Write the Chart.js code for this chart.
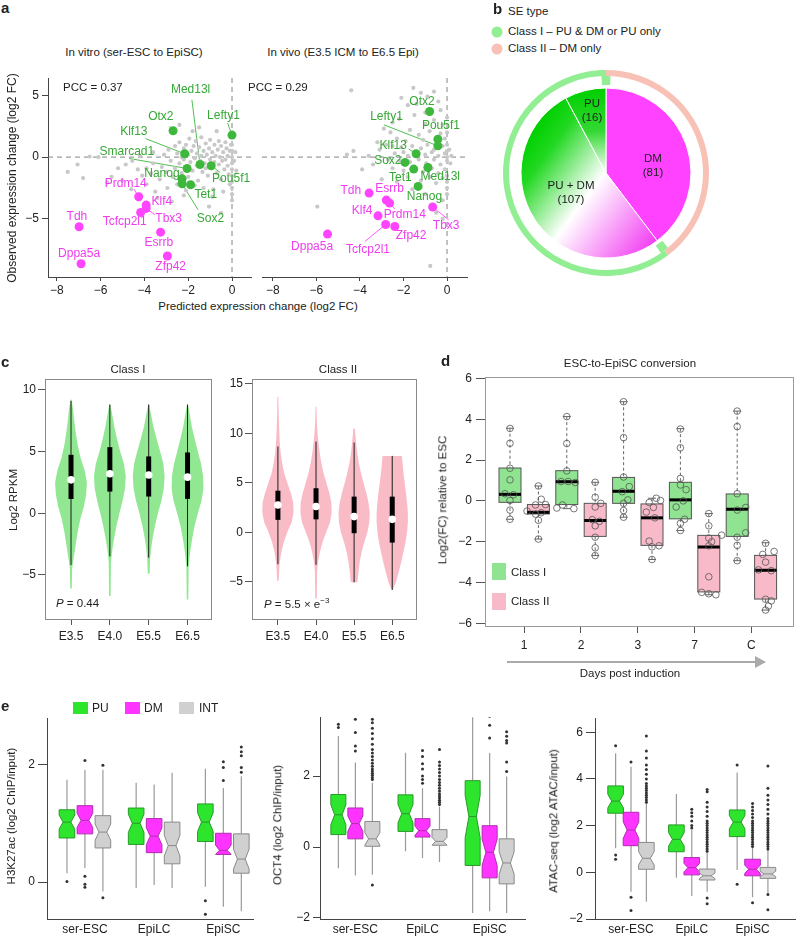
<!DOCTYPE html>
<html>
<head>
<meta charset="utf-8">
<script src="https://cdn.jsdelivr.net/npm/chart.js@4.4.1/dist/chart.umd.min.js"></script>
<style>
body { margin: 0; background: #fff; width: 799px; height: 936px; position: relative; overflow: hidden;
  font-family: 'Liberation Sans', Arial, Helvetica, sans-serif; color: #222; }
canvas { position: absolute; z-index: 1; }
.t { position: absolute; white-space: nowrap; font-size: 11.5px; line-height: 1; z-index: 3; }
.c { transform: translate(-50%, -50%); }
.l { transform: translate(0, -50%); }
.rot { transform: translate(-50%, -50%) rotate(-90deg); }
.pl { position: absolute; font-weight: bold; font-size: 15px; line-height: 1; z-index: 3; }
.sq { position: absolute; z-index: 2; }
.dot { position: absolute; width: 11px; height: 11px; border-radius: 50%; transform: translate(-50%, -50%); z-index: 2; }
sup { font-size: 8px; vertical-align: 5px; }
</style>
</head>
<body>
<!-- panel a text -->
<div class="pl" style="left:1px;top:0px">a</div>
<div class="t c" style="left:134px;top:53px">In vitro (ser-ESC to EpiSC)</div>
<div class="t c" style="left:343px;top:53px">In vivo (E3.5 ICM to E6.5 Epi)</div>
<div class="t l" style="left:63px;top:88px">PCC = 0.37</div>
<div class="t l" style="left:248px;top:88px">PCC = 0.29</div>
<div class="t rot" style="left:12px;top:178px;font-size:12px">Observed expression change (log2 FC)</div>
<div class="t c" style="left:258px;top:307px">Predicted expression change (log2 FC)</div>
<!-- panel b text -->
<div class="pl" style="left:493px;top:1px">b</div>
<div class="t l" style="left:508px;top:12px">SE type</div>
<div class="dot" style="left:497px;top:32px;background:#92ee92"></div>
<div class="t l" style="left:508px;top:32px">Class I – PU &amp; DM or PU only</div>
<div class="dot" style="left:497px;top:49px;background:#f8c1b6"></div>
<div class="t l" style="left:508px;top:49px">Class II – DM only</div>
<div class="t c" style="left:592px;top:104px">PU</div>
<div class="t c" style="left:592px;top:118px">(16)</div>
<div class="t c" style="left:653px;top:159px">DM</div>
<div class="t c" style="left:653px;top:173px">(81)</div>
<div class="t c" style="left:571px;top:186px">PU + DM</div>
<div class="t c" style="left:571px;top:200px">(107)</div>
<!-- panel c text -->
<div class="pl" style="left:1px;top:354px">c</div>
<div class="t c" style="left:128px;top:370px">Class I</div>
<div class="t c" style="left:338px;top:370px">Class II</div>
<div class="t rot" style="left:14px;top:500px">Log2 RPKM</div>
<div class="t l" style="left:56px;top:604px"><i>P</i> = 0.44</div>
<div class="t l" style="left:264px;top:604px"><i>P</i> = 5.5 × e<sup>−3</sup></div>
<!-- panel d text -->
<div class="pl" style="left:441px;top:353px">d</div>
<div class="t c" style="left:630px;top:364px">ESC-to-EpiSC conversion</div>
<div class="t rot" style="left:443px;top:500px">Log2(FC) relative to ESC</div>
<div class="sq" style="left:492px;top:563px;width:14px;height:17px;background:#90e390"></div>
<div class="t l" style="left:511px;top:573px">Class I</div>
<div class="sq" style="left:492px;top:593px;width:14px;height:17px;background:#f8b9c8"></div>
<div class="t l" style="left:511px;top:602px">Class II</div>
<div class="sq" style="left:507px;top:661px;width:249px;height:2px;background:#aaa"></div>
<div class="sq" style="left:755px;top:656px;width:0;height:0;border-top:6px solid transparent;border-bottom:6px solid transparent;border-left:11px solid #aaa"></div>
<div class="t c" style="left:630px;top:674px">Days post induction</div>
<!-- panel e text -->
<div class="pl" style="left:1px;top:698px">e</div>
<div class="sq" style="left:73px;top:702px;width:15px;height:12px;background:#2ee52e"></div>
<div class="t l" style="left:92px;top:708px;font-size:12px">PU</div>
<div class="sq" style="left:125px;top:702px;width:15px;height:12px;background:#ff33ff"></div>
<div class="t l" style="left:144px;top:708px;font-size:12px">DM</div>
<div class="sq" style="left:179px;top:702px;width:15px;height:12px;background:#d0d0d0"></div>
<div class="t l" style="left:199px;top:708px;font-size:12px">INT</div>
<div class="t rot" style="left:12px;top:816px">H3K27ac (log2 ChIP/input)</div>
<div class="t rot" style="left:278px;top:825px">OCT4 (log2 ChIP/input)</div>
<div class="t rot" style="left:554px;top:821px">ATAC-seq (log2 ATAC/input)</div>

<script>
// ---------------- panel a : predicted vs observed ----------------
const aTicksX = [-8, -6, -4, -2, 0]
const aTicksY = [-5, 0, 5]

const vitroGenes = ['Med13l', 'Otx2', 'Lefty1', 'Klf13', 'Smarcad1', 'Nanog', 'Pou5f1', 'Tet1', 'Sox2',
  'Prdm14', 'Klf4', 'Tbx3', 'Tcfcp2l1', 'Tdh', 'Esrrb', 'Zfp42', 'Dppa5a']
const vitroPred = [-1.46, -2.69, 0, -2.16, -2.05, -2.28, -0.95, -1.89, -2.28,
  -4.26, -3.92, -3.92, -4.17, -6.98, -3.26, -2.95, -6.89]
const vitroObs = [-0.6, 2.13, 1.78, 0.27, -0.92, -1.75, -0.7, -2.24, -2.16,
  -3.21, -3.88, -4.15, -4.48, -5.63, -6.07, -8.0, -8.63]
const vitroClass = [1, 1, 1, 1, 1, 1, 1, 1, 1, 2, 2, 2, 2, 2, 2, 2, 2]

const vivoGenes = ['Otx2', 'Pou5f1', 'Lefty1', 'Klf13', 'Sox2', 'Tet1', 'Med13l', 'Nanog',
  'Tdh', 'Esrrb', 'Prdm14', 'Tbx3', 'Klf4', 'Tcfcp2l1', 'Zfp42', 'Dppa5a']
const vivoPred = [-0.8, -0.42, -0.42, -1.42, -1.93, -1.53, -0.88, -1.33,
  -3.58, -2.79, -2.64, -0.66, -3.17, -2.82, -2.4, -5.49]
const vivoObs = [3.69, 1.45, 0.91, 0.27, -0.43, -0.97, -0.84, -2.37,
  -2.91, -3.48, -3.72, -4.04, -4.75, -5.45, -5.61, -6.23]
const vivoClass = [1, 1, 1, 1, 1, 1, 1, 1, 2, 2, 2, 2, 2, 2, 2, 2]

// other genes (grey background)
const vitroGray = [[-7.5,-1.2],[-7.05,-0.6],[-6.5,0.05],[-6.1,0],[-6.8,-1.7],[-5.7,-2.05],[-5.5,-1.6],[-5,-1.9],
  [-4.85,-0.6],[-4.55,-0.3],[-4.3,-1],[-4.1,-1.5],[-4.6,-2.6],[-3.9,-2.2],[-3.7,-1.3],[-3.6,-0.5],[-3.5,-2.8],
  [-3.4,-3.3],[-3.3,-1.8],[-3.2,-0.8],[-3.1,0.2],[-3,-1.2],[-2.95,-2.5],[-2.9,0.6],[-2.8,-0.3],[-2.7,-1.6],
  [-2.6,0.9],[-2.6,-0.9],[-2.5,0.3],[-2.5,-2.2],[-2.4,-0.5],[-2.4,1.2],[-2.3,0],[-2.3,-1.3],[-2.2,0.7],[-2.2,-0.2],
  [-2.1,1],[-2.1,-0.8],[-2,0.2],[-2,-1.6],[-1.95,1.5],[-1.9,-0.4],[-1.85,0.5],[-1.8,-1.1],[-1.75,0.9],[-1.7,-0.1],
  [-1.65,1.3],[-1.6,-0.7],[-1.6,0.3],[-1.55,-1.9],[-1.5,0.8],[-1.45,-0.3],[-1.4,1.6],[-1.4,0.1],[-1.35,-1.2],
  [-1.3,0.5],[-1.25,-0.5],[-1.2,1.1],[-1.2,-0.9],[-1.15,0.2],[-1.1,-1.5],[-1.05,0.7],[-1,-0.2],[-1,1.4],
  [-0.95,-0.9],[-0.9,0.4],[-0.85,-2.6],[-0.8,1],[-0.8,-0.4],[-0.75,0.1],[-0.7,-1.3],[-0.65,0.6],[-0.6,1.3],
  [-0.6,-0.6],[-0.55,0],[-0.5,-1.8],[-0.5,0.9],[-0.45,-0.3],[-0.4,0.4],[-0.35,-1],[-0.3,1.2],[-0.3,-0.2],
  [-0.25,0.7],[-0.2,-0.7],[-0.2,0.1],[-0.15,-1.4],[-0.1,0.5],[-0.1,-2.2],[-0.05,1],[0,-3.5],[0,-3],[0,-2.5],
  [0,-2],[0,-1.5],[0,-1],[0,-0.5],[0,0],[0,0.5],[0,1],[0.1,-0.3],[0.15,0.4],[0.2,-1.1],[-1.7,-2.3],[-2.1,-2.7],
  [-1.3,-2.5],[-0.9,-3.2],[-3.6,0.4],[-3.9,-0.9],[-4.2,0.1],[-1.8,2.1],[-2.4,2.6],[-1.5,2.4],[-0.7,2.1],
  [-2.75,-3.6],[-2.2,-3.1],[-0.4,-2.8],[-5.2,-0.9],[-1.05,-4],[-0.5,-4.5]]
const vivoGray = [[-4.4,5.4],[-4.3,0.5],[-4.6,0.2],[-5.96,-4],[-0.77,-8.8],[-3.4,-0.6],[-3.2,1.2],[-3,-1.8],
  [-2.9,2.3],[-3.6,0.1],[-3.1,0.6],[-1.55,5.6],[-1.2,5.2],[-0.9,4.9],[-0.4,4.5],[-2.1,4.8],[-1.8,4.2],[-0.6,3],
  [-1.5,3.4],[-2.2,3.1],[-1,2.7],[-0.2,2.6],[-2.6,2],[-1.7,2.2],[-0.8,2.1],[-1.3,1.8],[-0.3,1.9],[-2.3,1.5],
  [-1.9,1.3],[-1.1,1.4],[-0.5,1.2],[-0.1,1.5],[-2.5,0.9],[-2.1,0.8],[-1.6,0.9],[-1.2,0.7],[-0.9,1],[-0.6,0.6],
  [-0.2,0.9],[0.1,0.6],[-2.4,0.3],[-2,0.4],[-1.8,0.1],[-1.4,0.3],[-1,0.2],[-0.7,0.4],[-0.4,0.1],[-0.1,0.3],
  [0.2,0.1],[-2.7,-0.2],[-2.2,-0.3],[-1.7,-0.4],[-1.3,-0.2],[-0.95,-0.5],[-0.6,-0.2],[-0.3,-0.6],[0,-0.3],
  [0.15,-0.5],[-2.5,-0.9],[-2,-1.1],[-1.5,-0.8],[-1.1,-1.2],[-0.7,-0.9],[-0.4,-1.3],[-0.1,-1],[-1.8,-1.6],
  [-1.2,-1.9],[-0.8,-1.6],[-0.5,-2.1],[-0.2,-1.7],[0,-2.5],[0,-3],[0,-2],[0,-1.5],[0,0],[0,0.5],[0,1],[0,2],
  [0,3.2],[-0.2,-3.5],[-1.6,-2.6],[-2.3,-2],[-1,-3],[-0.3,3.8],[-1,3.6],[-2.5,2.8],[-2.8,1],[-0.5,-4.5],
  [-0.2,-5],[-3.9,-1],[-1.4,4.3],[-0.6,5.3]]

// where each gene name sits: [textX, textY, leaderStartX, leaderStartY] in axis units
const vitroLabelAt = {
  Med13l: [-1.89, 5.44, -1.83, 4.63], Otx2: [-3.25, 3.26, -2.85, 2.5], Lefty1: [-0.39, 3.34, -0.2, 2.75],
  Klf13: [-4.48, 2.05, -3.95, 1.5], Smarcad1: [-4.8, 0.43, -4.7, -0.11], Nanog: [-3.2, -1.35],
  Pou5f1: [-0.04, -1.75, -0.54, -1.24], Tet1: [-1.2, -3.05], Sox2: [-0.98, -5.0, -1.55, -4.26],
  Prdm14: [-4.85, -2.13, -4.48, -2.59], Klf4: [-3.2, -3.61], Tbx3: [-2.89, -4.99, -3.52, -4.66],
  Tcfcp2l1: [-4.9, -5.23], Tdh: [-7.08, -4.8], Esrrb: [-3.34, -6.93], Zfp42: [-2.8, -8.84], Dppa5a: [-6.98, -7.82]
}
const vivoLabelAt = {
  Otx2: [-1.15, 4.49], Lefty1: [-2.78, 3.23, -2.9, 2.61], Pou5f1: [-0.28, 2.53, -0.31, 2.07],
  Klf13: [-2.47, 0.94, -1.76, 0.65], Sox2: [-2.72, -0.3], Tet1: [-2.14, -1.7], Med13l: [-0.31, -1.59],
  Nanog: [-1.04, -3.19], Tdh: [-4.42, -2.72], Esrrb: [-2.64, -2.54], Klf4: [-3.9, -4.32],
  Prdm14: [-1.94, -4.66, -2.4, -4.2], Tbx3: [-0.04, -5.58, 0.07, -5.07], Zfp42: [-1.65, -6.39],
  Tcfcp2l1: [-3.63, -7.52, -3.77, -6.82], Dppa5a: [-6.2, -7.25]
}

// ---------------- panel b : SE types ----------------
const bSlices = ['DM', 'PU + DM', 'PU']
const bCounts = [81, 107, 16]
const bClasses = ['Class II – DM only', 'Class I – PU & DM or PU only']
const bClassCounts = [81, 123]

// ---------------- panel c : violins ----------------
const cStages = ['E3.5', 'E4.0', 'E5.5', 'E6.5']
const cTicksI = [-5, 0, 5, 10]
const cTicksII = [-5, 0, 5, 10, 15]
// density profiles: [log2 RPKM, relative density]
const classIShape = [
  [[9.2,0.03],[8.5,0.12],[7.5,0.2],[6.5,0.3],[5.5,0.42],[4.5,0.6],[3.5,0.85],[2.5,1],[1.5,0.95],[0.5,0.8],[-0.5,0.58],[-1.5,0.42],[-2.5,0.3],[-3.5,0.18],[-4.2,0.1],[-4.5,0.07],[-6.1,0.05]],
  [[8.8,0.03],[8,0.15],[7,0.28],[6,0.45],[5,0.65],[4,0.88],[3,1],[2,0.95],[1,0.8],[0,0.6],[-1,0.42],[-2,0.27],[-3,0.15],[-3.6,0.1],[-4,0.07],[-6.7,0.05]],
  [[8.8,0.03],[8,0.15],[7,0.3],[6,0.5],[5,0.72],[4,0.92],[3,1],[2,0.95],[1,0.8],[0,0.58],[-1,0.4],[-2,0.25],[-3,0.14],[-3.6,0.1],[-4,0.08],[-4.9,0.06]],
  [[8.8,0.03],[8,0.14],[7,0.27],[6,0.45],[5,0.65],[4,0.85],[3,0.98],[2,1],[1,0.88],[0,0.65],[-1,0.45],[-2,0.3],[-3,0.18],[-4,0.1],[-4.4,0.07],[-7,0.05]]
]
const classIIShape = [
  [[13.7,0.03],[12,0.05],[10.5,0.08],[9,0.12],[8,0.18],[7,0.27],[6,0.4],[5,0.6],[4,0.82],[3,0.98],[2,1],[1,0.88],[0,0.6],[-1,0.38],[-2,0.22],[-3,0.12],[-3.3,0.1],[-4.9,0.05]],
  [[12.7,0.03],[11,0.06],[10,0.1],[9,0.16],[8,0.24],[7,0.34],[6,0.48],[5,0.66],[4,0.85],[3,0.98],[2,1],[1,0.9],[0,0.65],[-1,0.42],[-2,0.25],[-3,0.13],[-3.4,0.1],[-4,0.07],[-6.7,0.05]],
  [[10.5,0.05],[9.5,0.1],[8,0.2],[7,0.3],[6,0.44],[5,0.6],[4,0.78],[3,0.92],[2,1],[1,0.97],[0,0.85],[-1,0.65],[-2,0.48],[-3,0.36],[-4,0.28],[-5,0.22],[-5.1,0.05]],
  [[7.7,0.62],[6,0.72],[5,0.8],[4,0.88],[3,0.95],[2,1],[1,1],[0,0.95],[-1,0.85],[-2,0.72],[-3,0.58],[-4,0.42],[-5,0.25],[-5.8,0.05]]
]
// [whisker low, q1, median, q3, whisker high]
const classIStats = [[-4.2, 1.15, 2.7, 4.73, 9.1], [-3.5, 1.75, 3.19, 5.35, 8.8], [-3.6, 1.35, 3.1, 4.6, 8.8], [-4.3, 1.16, 2.92, 4.92, 8.8]]
const classIIStats = [[-3.24, 1.25, 2.76, 4.2, 8.67], [-3.3, 1.3, 2.6, 4.45, 9.17], [-5.06, -0.1, 1.58, 3.6, 9.07], [-5.84, -1.05, 1.3, 3.6, 7.72]]

// ---------------- panel d : ESC-to-EpiSC ----------------
const dDays = ['1', '2', '3', '7', 'C']
const dTicksY = [-6, -4, -2, 0, 2, 4, 6]
const dClassI = [
  [3.55, 2.82, 1.6, 1.03, 0.35, 0.3, 0.02, -0.45, -0.9],
  [4.13, 2.81, 1.47, 0.95, 0.95, 0.9, -0.2, -0.35, -0.38],
  [4.86, 3.1, 1.17, 0.7, 0.45, 0.05, -0.12, -0.47, -0.8],
  [3.52, 2.6, 1.1, 0.78, 0.55, 0.0, -0.3, -0.9, -1.1, -1.45],
  [4.4, 3.64, 0.35, -0.32, -0.45, -1.56, -1.78, -2.18, -2.93]
]
const dClassII = [
  [0.73, 0.08, -0.18, -0.2, -0.5, -0.58, -0.65, -0.95, -1.87],
  [0.91, 0.18, -0.12, -0.3, -0.92, -1.0, -1.22, -1.78, -2.3, -2.68],
  [0.13, 0.02, -0.08, -0.32, -0.55, -0.83, -1.97, -2.2, -2.25, -2.87],
  [-0.62, -1.22, -1.68, -1.82, -2.0, -2.2, -3.72, -4.48, -4.55, -4.6],
  [-2.08, -2.48, -2.62, -3.0, -3.38, -3.42, -4.82, -4.9, -5.15, -5.35]
]
const dJitterI = [
  [0, 0, 0, 0, -0.18, 0.12, 0, 0, 0], [0, 0, 0, -0.2, 0.05, 0.3, -0.15, -0.35, 0.25],
  [0, 0, 0, 0.2, -0.05, 0.15, 0, 0, 0], [0, 0, 0, 0, 0.2, 0.1, -0.15, 0.15, 0, 0],
  [0, 0, 0, 0.3, 0, 0.3, 0, 0, 0]
]
const dJitterII = [
  [0, 0.1, 0.25, -0.1, -0.4, 0.1, -0.1, 0, 0], [0, 0, 0.2, 0, -0.1, 0.15, 0, 0, 0, 0],
  [0.15, 0.3, -0.1, 0.05, -0.2, 0.1, -0.1, 0.25, 0, 0], [0, 0, 0.45, 0, 0.1, 0, 0, -0.25, 0, 0.25],
  [0, 0.3, -0.1, 0, -0.25, 0.2, 0, 0.2, 0.1, 0]
]
const dStatsI = [[-0.9, -0.07, 0.32, 1.61, 3.56], [-0.38, -0.18, 0.94, 1.48, 4.13], [-0.8, -0.12, 0.47, 1.15, 4.86], [-1.45, -0.88, 0.05, 0.91, 3.54], [-2.93, -1.74, -0.41, 0.34, 4.4]]
const dStatsII = [[-1.87, -0.64, -0.56, -0.18, 0.73], [-2.68, -1.74, -0.96, -0.12, 0.91], [-2.87, -2.18, -0.83, -0.15, 0.13], [-4.6, -4.46, -2.26, -1.69, -0.62], [-5.35, -4.81, -3.4, -2.67, -2.05]]

// ---------------- panel e : PU / DM / INT ----------------
const eCells = ['ser-ESC', 'EpiLC', 'EpiSC']
const eTypes = ['PU', 'DM', 'INT']
const h3Ticks = [0, 2]
const oct4Ticks = [-2, 0, 2]
const atacTicks = [-2, 0, 2, 4, 6]
const h3Stats = [
  [[0.15, 0.75, 1.02, 1.23, 1.74], [0.24, 0.82, 1.05, 1.3, 1.91], [-0.16, 0.58, 0.85, 1.13, 1.91]],
  [[-0.1, 0.64, 1.0, 1.26, 1.69], [-0.05, 0.5, 0.78, 1.08, 1.66], [-0.1, 0.31, 0.62, 1.02, 1.86]],
  [[-0.08, 0.69, 1.02, 1.33, 1.93], [-0.42, 0.47, 0.54, 0.83, 1.6], [-0.5, 0.15, 0.39, 0.82, 1.8]]
]
const h3Out = [
  [[0.01], [2.07, 0.1, -0.04, -0.09], [1.99, -0.27]],
  [[], [], []],
  [[-0.32, -0.55], [1.73, 1.95, 2.05], [1.87, 1.95, 2.15, 2.22, 2.3]]
]
const oct4Stats = [
  [[-0.6, 0.35, 0.91, 1.48, 3.13], [-0.8, 0.23, 0.66, 1.1, 2.38], [-0.78, 0.02, 0.23, 0.72, 1.81]],
  [[-0.12, 0.44, 0.94, 1.47, 2.66], [-0.31, 0.28, 0.46, 0.8, 1.66], [-0.42, 0.05, 0.16, 0.49, 1.14]],
  [[-1.86, -0.52, 0.86, 1.87, 3.66], [-1.81, -0.87, -0.15, 0.6, 2.65], [-1.86, -1.04, -0.45, 0.23, 1.99]]
]
const oct4Out = [
  [[3.37, 3.46], [2.71, 2.85, 3.23, 3.6],
   [1.9, 1.96, 2.02, 2.08, 2.14, 2.2, 2.28, 2.36, 2.45, 2.55, 2.65, 2.75, 2.9, 3.05, 3.2, 3.35, 3.5, 3.6, -1.07]],
  [[], [1.8, 1.9, 2.0, 2.2, 2.35, 2.55, 2.72],
   [1.2, 1.26, 1.32, 1.38, 1.44, 1.5, 1.58, 1.66, 1.74, 1.82, 1.9, 2.0, 2.1, 2.2, 2.3, 2.4, 2.75]],
  [[], [3.07, 3.43, 3.68], [2.13, 2.4, 2.93, 3.0, 3.12, 3.25]]
]
const atacStats = [
  [[1.03, 2.53, 3.05, 3.7, 5.1], [-0.83, 1.14, 1.81, 2.57, 4.52], [-1.26, 0.13, 0.6, 1.28, 2.95]],
  [[-0.23, 0.88, 1.41, 2.03, 3.35], [-1.02, -0.11, 0.2, 0.63, 1.81], [-0.83, -0.33, -0.15, 0.14, 0.85]],
  [[0.1, 1.53, 2.15, 2.67, 4.27], [-1.07, -0.15, 0.13, 0.56, 1.05], [-0.9, -0.26, -0.07, 0.21, 0.95]]
]
const atacOut = [
  [[5.42, 0.74, 0.56], [4.72, -1.07, -1.64],
   [3.0, 3.1, 3.2, 3.3, 3.4, 3.5, 3.6, 3.7, 3.8, 4.0, 4.2, 4.4, 4.6, 4.9, 5.2, 5.84]],
  [[], [1.9, 2.0, 2.2, 2.4, 2.55, 2.7],
   [0.9, 1.0, 1.1, 1.2, 1.3, 1.4, 1.5, 1.6, 1.7, 1.8, 1.9, 2.0, 2.1, 2.2, 2.4, 2.6, 2.8, 3.0, 3.45, 3.55, -1.1, -1.35]],
  [[4.6, -0.51],
   [1.1, 1.2, 1.3, 1.4, 1.5, 1.6, 1.7, 1.8, 1.9, 2.0, 2.1, 2.2, 2.35, 2.5, 2.65, 2.8, 2.95, -1.3],
   [1.0, 1.1, 1.2, 1.3, 1.4, 1.5, 1.6, 1.7, 1.8, 1.9, 2.0, 2.1, 2.2, 2.3, 2.5, 2.7, 2.9, 3.1, 3.3, 3.6, 4.55, -0.95, -1.6]]
]

// ---------------- shared helpers ----------------
Chart.defaults.font.family = "'Liberation Sans', Arial, Helvetica, sans-serif"
Chart.defaults.font.size = 12
Chart.defaults.color = '#222'
Chart.defaults.animation = false
Chart.defaults.events = []
Chart.defaults.plugins.legend.display = false
Chart.defaults.plugins.tooltip.enabled = false

var GREEN = '#3db83d', MAGENTA = '#ff44ff'
var eFill = ['#2ee52e', '#ff33ff', '#d0d0d0']
var eLine = ['#279a27', '#b02cb0', '#8a8a8a']

function mkCanvas(left, top, w, h) {
	var c = document.createElement('canvas')
	c.width = w
	c.height = h
	c.style.left = left + 'px'
	c.style.top = top + 'px'
	c.style.width = w + 'px'
	c.style.height = h + 'px'
	document.body.appendChild(c)
	return c
}

function fmt(v) { return v < 0 ? '\u2212' + Math.abs(v) : '' + v }

// linear axis with fixed thickness and fixed tick list
function axis(o) {
	return {
		type: 'linear',
		position: o.pos,
		min: o.min,
		max: o.max,
		display: o.display !== false,
		afterFit: function (s) { if (o.pos === 'left') s.width = o.size; else s.height = o.size },
		afterBuildTicks: function (s) { s.ticks = o.ticks.map(function (v) { return { value: v } }) },
		ticks: { callback: o.label || fmt, padding: o.pad, autoSkip: false, maxRotation: 0, minRotation: 0, color: '#222' },
		grid: { drawOnChartArea: false, drawTicks: o.tick > 0, tickLength: o.tick || 0, color: o.color || '#444', lineWidth: 1 },
		border: { display: o.border !== false, color: o.color || '#444', width: 1 }
	}
}

function framePlugin(color) {
	return {
		id: 'frame',
		afterDraw: function (chart) {
			var a = chart.chartArea, ctx = chart.ctx
			ctx.save()
			ctx.strokeStyle = color
			ctx.lineWidth = 1
			ctx.strokeRect(Math.round(a.left) + 0.5, Math.round(a.top) + 0.5, Math.round(a.right - a.left) - 1, Math.round(a.bottom - a.top))
			ctx.restore()
		}
	}
}

// ---------------- panel a charts ----------------
function genePlugin(genes, pred, obs, cls, labelAt) {
	return {
		id: 'genes',
		beforeDatasetsDraw: function (chart) {
			var ctx = chart.ctx, x = chart.scales.x, y = chart.scales.y, a = chart.chartArea
			ctx.save()
			ctx.strokeStyle = '#777'
			ctx.lineWidth = 0.9
			ctx.setLineDash([5, 4])
			var x0 = x.getPixelForValue(0), y0 = y.getPixelForValue(0)
			ctx.beginPath()
			ctx.moveTo(x0, a.top); ctx.lineTo(x0, a.bottom)
			ctx.moveTo(a.left, y0); ctx.lineTo(a.right, y0)
			ctx.stroke()
			ctx.setLineDash([])
			genes.forEach(function (g, i) {
				var p = labelAt[g]
				if (!p || p.length < 4) return
				ctx.strokeStyle = cls[i] === 1 ? GREEN : MAGENTA
				ctx.beginPath()
				ctx.moveTo(x.getPixelForValue(p[2]), y.getPixelForValue(p[3]))
				ctx.lineTo(x.getPixelForValue(pred[i]), y.getPixelForValue(obs[i]))
				ctx.stroke()
			})
			ctx.restore()
		},
		afterDatasetsDraw: function (chart) {
			var ctx = chart.ctx, x = chart.scales.x, y = chart.scales.y
			ctx.save()
			ctx.font = "12px 'Liberation Sans', Arial, sans-serif"
			ctx.textAlign = 'center'
			ctx.textBaseline = 'middle'
			genes.forEach(function (g, i) {
				var p = labelAt[g]
				ctx.fillStyle = cls[i] === 1 ? '#35a835' : '#f03cf0'
				ctx.fillText(g, x.getPixelForValue(p[0]), y.getPixelForValue(p[1]))
			})
			ctx.restore()
		}
	}
}

function scatterA(canvas, gray, genes, pred, obs, cls, labelAt, xmin, xmax, showY, padLeft) {
	var pts = function (k) {
		return genes.map(function (g, i) { return { x: pred[i], y: obs[i], k: cls[i] } }).filter(function (p) { return p.k === k })
	}
	return new Chart(canvas, {
		type: 'scatter',
		data: {
			datasets: [
				{ data: pts(2), pointRadius: 4.5, backgroundColor: MAGENTA, borderColor: MAGENTA, borderWidth: 0 },
				{ data: pts(1), pointRadius: 4.5, backgroundColor: GREEN, borderColor: GREEN, borderWidth: 0 },
				{ data: gray.map(function (p) { return { x: p[0], y: p[1] } }), pointRadius: 2.1, backgroundColor: '#c8c8c8', borderWidth: 0 }
			]
		},
		options: {
			responsive: false,
			layout: { padding: { top: 18, right: 3, left: padLeft, bottom: 0 } },
			scales: {
				x: axis({ pos: 'bottom', min: xmin, max: xmax, ticks: aTicksX, size: 23, tick: 4, pad: 2, color: '#444' }),
				y: showY ? axis({ pos: 'left', min: -9.7, max: 6.4, ticks: aTicksY, size: 48, tick: 6, pad: 3, color: '#444' })
					: { type: 'linear', min: -9.7, max: 6.4, display: false }
			}
		},
		plugins: [genePlugin(genes, pred, obs, cls, labelAt)]
	})
}

scatterA(mkCanvas(0, 60, 256, 240), vitroGray, vitroGenes, vitroPred, vitroObs, vitroClass, vitroLabelAt, -8.4, 0.89, true, 0)
scatterA(mkCanvas(256, 60, 216, 240), vivoGray, vivoGenes, vivoPred, vivoObs, vivoClass, vivoLabelAt, -8.5, 0.94, false, 6)

// ---------------- panel b chart ----------------
function pieFill(c) {
	var a = c.chart.chartArea
	if (!a) return '#cccccc'
	if (c.dataIndex === 0) return '#ff42ff'
	var cx = (a.left + a.right) / 2, cy = (a.top + a.bottom) / 2
	var r = Math.min(a.right - a.left, a.bottom - a.top) / 2 * 85 / 103
	var g
	if (c.dataIndex === 1) {
		g = c.chart.ctx.createLinearGradient(cx + 0.55 * r, cy + 0.85 * r, cx - 1.0 * r, cy - 0.3 * r)
		g.addColorStop(0, '#f23ff2')
		g.addColorStop(0.5, '#ffffff')
		g.addColorStop(0.85, '#22d822')
		g.addColorStop(1, '#00d000')
		return g
	}
	g = c.chart.ctx.createLinearGradient(cx - 0.1 * r, cy - r, cx, cy)
	g.addColorStop(0, '#00cf00')
	g.addColorStop(0.5, '#33d933')
	g.addColorStop(1, '#ffffff')
	return g
}

var total = bCounts.reduce(function (s, v) { return s + v }, 0)
new Chart(mkCanvas(500, 67, 212, 212), {
	type: 'doughnut',
	data: {
		labels: bSlices,
		datasets: [
			{ data: bClassCounts, backgroundColor: ['#f8c1b6', '#92ee92'], borderWidth: 0, weight: 6 },
			{ data: [1.5, bClassCounts[0] - 3, 3, bClassCounts[1] - 3, 1.5],
				backgroundColor: ['#92ee92', 'rgba(0,0,0,0)', '#92ee92', 'rgba(0,0,0,0)', '#92ee92'], borderWidth: 0, weight: 9 },
			{ data: [total], backgroundColor: 'rgba(0,0,0,0)', borderWidth: 0, weight: 3 },
			{ data: bCounts, backgroundColor: pieFill, borderColor: '#ffffff', borderWidth: 1, weight: 85 }
		]
	},
	options: { responsive: false, cutout: 0, layout: { padding: 3 } }
})

// ---------------- panel c charts ----------------
function violinPlugin(shapes, stats, fill) {
	return {
		id: 'violins',
		beforeDatasetsDraw: function (chart) {
			var ctx = chart.ctx, x = chart.scales.x, y = chart.scales.y
			var wmax = 0.41
			ctx.save()
			shapes.forEach(function (prof, i) {
				ctx.beginPath()
				prof.forEach(function (p, k) {
					var px = x.getPixelForValue(i + p[1] * wmax), py = y.getPixelForValue(p[0])
					if (k === 0) ctx.moveTo(px, py); else ctx.lineTo(px, py)
				})
				for (var k = prof.length - 1; k >= 0; k--) {
					ctx.lineTo(x.getPixelForValue(i - prof[k][1] * wmax), y.getPixelForValue(prof[k][0]))
				}
				ctx.closePath()
				ctx.fillStyle = fill
				ctx.fill()
				var s = stats[i], cx = x.getPixelForValue(i)
				ctx.strokeStyle = '#1c1c1c'
				ctx.lineWidth = 1
				ctx.beginPath()
				ctx.moveTo(cx, y.getPixelForValue(s[0])); ctx.lineTo(cx, y.getPixelForValue(s[4]))
				ctx.stroke()
				ctx.strokeStyle = '#000'
				ctx.lineWidth = 5
				ctx.beginPath()
				ctx.moveTo(cx, y.getPixelForValue(s[1])); ctx.lineTo(cx, y.getPixelForValue(s[3]))
				ctx.stroke()
			})
			ctx.restore()
		}
	}
}

function violinChart(canvas, shapes, stats, fill, ticksY, ymin, ymax, xmin, xmax, ysize) {
	return new Chart(canvas, {
		type: 'scatter',
		data: {
			datasets: [{
				data: stats.map(function (s, i) { return { x: i, y: s[2] } }),
				pointRadius: 3.8, backgroundColor: '#ffffff', borderWidth: 0
			}]
		},
		options: {
			responsive: false,
			layout: { padding: { top: 10, right: 3, left: 0, bottom: 0 } },
			scales: {
				x: axis({ pos: 'bottom', min: xmin, max: xmax, ticks: [0, 1, 2, 3], size: 30, tick: 6, pad: 4,
					color: '#555', border: false, label: function (v) { return cStages[v] } }),
				y: axis({ pos: 'left', min: ymin, max: ymax, ticks: ticksY, size: ysize, tick: 7, pad: 2, color: '#555', border: false })
			}
		},
		plugins: [violinPlugin(shapes, stats, fill), framePlugin('#8a8a8a')]
	})
}

violinChart(mkCanvas(0, 369, 216, 280), classIShape, classIStats, '#92e892', cTicksI, -8.57, 10.87, -0.67, 3.63, 45)
violinChart(mkCanvas(212, 369, 209, 280), classIIShape, classIIStats, '#f9bcc7', cTicksII, -8.78, 15.5, -0.68, 3.65, 40)

// ---------------- panel d chart ----------------
function dBoxPlugin() {
	return {
		id: 'dboxes',
		beforeDatasetsDraw: function (chart) {
			var ctx = chart.ctx, x = chart.scales.x, y = chart.scales.y
			ctx.save()
			var all = []
			dStatsI.forEach(function (s, g) { all.push([2 * g, s, '#90e390']) })
			dStatsII.forEach(function (s, g) { all.push([2 * g + 1, s, '#f8b9c8']) })
			all.forEach(function (b) {
				var cx = x.getPixelForValue(b[0]), s = b[1], hw = 11
				var P = function (v) { return y.getPixelForValue(v) }
				ctx.strokeStyle = '#666'
				ctx.lineWidth = 1
				ctx.setLineDash([3, 2.5])
				ctx.beginPath()
				ctx.moveTo(cx, P(s[4])); ctx.lineTo(cx, P(s[3]))
				ctx.moveTo(cx, P(s[1])); ctx.lineTo(cx, P(s[0]))
				ctx.stroke()
				ctx.setLineDash([])
				ctx.beginPath()
				ctx.moveTo(cx - 4, P(s[4])); ctx.lineTo(cx + 4, P(s[4]))
				ctx.moveTo(cx - 4, P(s[0])); ctx.lineTo(cx + 4, P(s[0]))
				ctx.stroke()
				ctx.fillStyle = b[2]
				ctx.fillRect(cx - hw, P(s[3]), 2 * hw, P(s[1]) - P(s[3]))
				ctx.strokeStyle = '#555'
				ctx.strokeRect(cx - hw, P(s[3]), 2 * hw, P(s[1]) - P(s[3]))
				ctx.strokeStyle = '#000'
				ctx.lineWidth = 3
				ctx.beginPath()
				ctx.moveTo(cx - hw, P(s[2])); ctx.lineTo(cx + hw, P(s[2]))
				ctx.stroke()
				ctx.lineWidth = 1
			})
			ctx.restore()
		}
	}
}

var dPoints = []
dClassI.forEach(function (vals, g) {
	vals.forEach(function (v, k) { dPoints.push({ x: 2 * g + dJitterI[g][k], y: v }) })
})
dClassII.forEach(function (vals, g) {
	vals.forEach(function (v, k) { dPoints.push({ x: 2 * g + 1 + dJitterII[g][k], y: v }) })
})

new Chart(mkCanvas(430, 366, 369, 290), {
	type: 'scatter',
	data: {
		datasets: [{ data: dPoints, pointRadius: 3.3, backgroundColor: 'rgba(0,0,0,0)', borderColor: '#555', borderWidth: 0.8 }]
	},
	options: {
		responsive: false,
		layout: { padding: { top: 10, right: 5, left: 0, bottom: 0 } },
		scales: {
			x: axis({ pos: 'bottom', min: -0.88, max: 10.0, ticks: [0.5, 2.5, 4.5, 6.5, 8.5], size: 30, tick: 7, pad: 5,
				color: '#555', border: false, label: function (v) { return dDays[(v - 0.5) / 2] } }),
			y: axis({ pos: 'left', min: -6.13, max: 6.06, ticks: dTicksY, size: 55, tick: 9, pad: 4, color: '#555', border: false })
		}
	},
	plugins: [dBoxPlugin(), framePlugin('#9a9a9a')]
})

// ---------------- panel e charts ----------------
function eBoxPlugin(stats, gap, hw) {
	return {
		id: 'eboxes',
		beforeDatasetsDraw: function (chart) {
			var ctx = chart.ctx, x = chart.scales.x, y = chart.scales.y
			var P = function (v) { return y.getPixelForValue(v) }
			ctx.save()
			stats.forEach(function (grp, g) {
				grp.forEach(function (s, b) {
					var cx = x.getPixelForValue(g * gap + b)
					ctx.strokeStyle = '#9a9a9a'
					ctx.lineWidth = 1.2
					ctx.beginPath()
					ctx.moveTo(cx, P(s[4])); ctx.lineTo(cx, P(s[3]))
					ctx.moveTo(cx, P(s[1])); ctx.lineTo(cx, P(s[0]))
					ctx.stroke()
					var nh = 0.25 * (s[3] - s[1])
					var top = P(s[3]), bot = P(s[1]), m = P(s[2])
					var nt = P(Math.min(s[3], s[2] + nh)), nb = P(Math.max(s[1], s[2] - nh))
					var wn = hw * 0.5
					ctx.beginPath()
					ctx.moveTo(cx - hw, top); ctx.lineTo(cx + hw, top); ctx.lineTo(cx + hw, nt)
					ctx.lineTo(cx + wn, m); ctx.lineTo(cx + hw, nb); ctx.lineTo(cx + hw, bot)
					ctx.lineTo(cx - hw, bot); ctx.lineTo(cx - hw, nb); ctx.lineTo(cx - wn, m)
					ctx.lineTo(cx - hw, nt)
					ctx.closePath()
					ctx.fillStyle = eFill[b]
					ctx.fill()
					ctx.strokeStyle = eLine[b]
					ctx.lineWidth = 1
					ctx.stroke()
					ctx.beginPath()
					ctx.moveTo(cx - wn, m); ctx.lineTo(cx + wn, m)
					ctx.stroke()
				})
			})
			ctx.restore()
		}
	}
}

function eChart(canvas, stats, outs, ticksY, ymin, ymax, xmin, xmax, gap, hw, ysize, padRight, tick) {
	var pts = []
	outs.forEach(function (grp, g) {
		grp.forEach(function (vals, b) {
			vals.forEach(function (v) { pts.push({ x: g * gap + b, y: v }) })
		})
	})
	return new Chart(canvas, {
		type: 'scatter',
		data: { datasets: [{ data: pts, pointRadius: 1.5, backgroundColor: '#333', borderWidth: 0 }] },
		options: {
			responsive: false,
			layout: { padding: { top: 10, right: padRight, left: 0, bottom: 0 } },
			scales: {
				x: axis({ pos: 'bottom', min: xmin, max: xmax, ticks: [1, gap + 1, 2 * gap + 1], size: 17, tick: 0, pad: 3,
					color: '#444', label: function (v) { return eCells[Math.round((v - 1) / gap)] } }),
				y: axis({ pos: 'left', min: ymin, max: ymax, ticks: ticksY, size: ysize, tick: tick, pad: 3, color: '#444' })
			}
		},
		plugins: [eBoxPlugin(stats, gap, hw)]
	})
}

eChart(mkCanvas(0, 708, 258, 228), h3Stats, h3Out, h3Ticks, -0.63, 2.79, -1.11, 10.35, 3.85, 7.8, 47, 5, 9)
eChart(mkCanvas(270, 707, 260, 229), oct4Stats, oct4Out, oct4Ticks, -2.03, 3.66, -1.08, 10.98, 3.95, 7.5, 50, 5, 7)
eChart(mkCanvas(545, 708, 254, 228), atacStats, atacOut, atacTicks, -2.0, 6.6, -1.34, 11.66, 3.95, 7.8, 50, 0, 9)
</script>
</body>
</html>
